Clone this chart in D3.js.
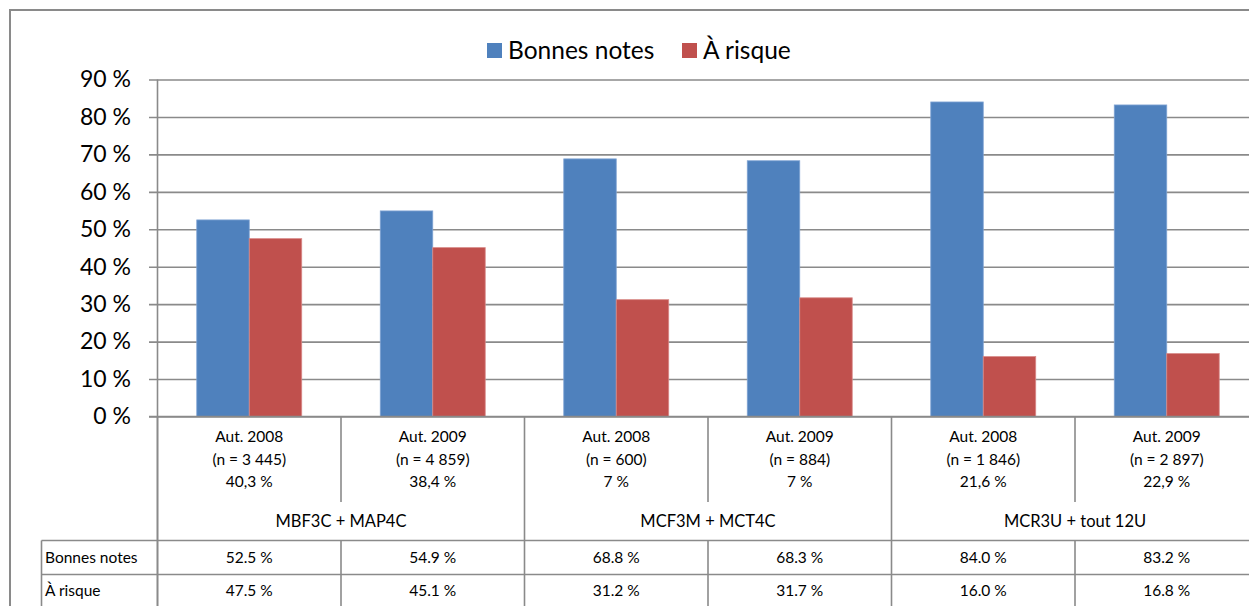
<!DOCTYPE html>
<html><head><meta charset="utf-8">
<script src="https://cdn.jsdelivr.net/npm/d3@7"></script>
<style>
html,body{margin:0;padding:0;background:#fff;}
svg{display:block;font-family:Lato,"Open Sans",sans-serif;}
</style></head>
<body>
<svg id="chart" width="1249" height="606"></svg>
<script>
const periods = ["Aut. 2008","Aut. 2009","Aut. 2008","Aut. 2009","Aut. 2008","Aut. 2009"];
const nLabels = ["(n = 3 445)","(n = 4 859)","(n = 600)","(n = 884)","(n = 1 846)","(n = 2 897)"];
const shares = ["40,3 %","38,4 %","7 %","7 %","21,6 %","22,9 %"];
const groups = ["MBF3C + MAP4C","MCF3M + MCT4C","MCR3U + tout 12U"];
const seriesNames = ["Bonnes notes","À risque"];
const bonnes = [52.5, 54.9, 68.8, 68.3, 84.0, 83.2];
const risque = [47.5, 45.1, 31.2, 31.7, 16.0, 16.8];
const yTicks = [0,10,20,30,40,50,60,70,80,90];
const colors = ["#4F81BD","#C0504D"];

(function(){
const svg = d3.select("#chart");
const gridColor = "#8a8a8a";
const plotLeft = 157.5, step = 183.5, plotRight = plotLeft + step*periods.length;
const plotTop = 79.5, base = 416.5;

const idx = d3.range(periods.length);
const x0 = d3.scaleBand().domain(idx).range([plotLeft, plotRight]).paddingInner(0.428).paddingOuter(0.214);
const x1 = d3.scaleBand().domain([0,1]).range([0, x0.bandwidth()]);
const y = d3.scaleLinear().domain([0,90]).range([base, plotTop]);

// outer border
svg.append("path").attr("d","M10,606 L10,10 L1249,10").attr("fill","none")
  .attr("stroke",gridColor).attr("stroke-width",2);

// y axis with gridlines
const yAxis = d3.axisLeft(y).tickValues(yTicks).tickSize(-(plotRight-149)).tickPadding(18)
  .tickFormat(d => d + " %");
const gy = svg.append("g").attr("transform","translate(149,0)").call(yAxis);
gy.select(".domain").remove();
gy.selectAll(".tick line").attr("stroke",gridColor).attr("stroke-width",1.6);
gy.selectAll(".tick text").attr("font-size",23).attr("fill","#000").attr("font-family","Lato");

// bars
const data = idx.map(i => [bonnes[i], risque[i]]);
const gcat = svg.append("g").selectAll("g").data(data).join("g")
  .attr("transform",(d,i)=>`translate(${x0(i)},0)`);
gcat.selectAll("rect").data(d=>d).join("rect")
  .attr("x",(d,j)=>x1(j)).attr("width",x1.bandwidth())
  .attr("y",d=>y(d)).attr("height",d=>base - y(d))
  .attr("fill",(d,j)=>colors[j])
  .attr("stroke",(d,j)=> j===0 ? "#7fa3d3" : "#d88a88").attr("stroke-width",0.8);

// vertical axis line
svg.append("line").attr("x1",plotLeft).attr("x2",plotLeft).attr("y1",plotTop).attr("y2",606)
  .attr("stroke",gridColor).attr("stroke-width",1.6);
// x axis baseline
svg.append("line").attr("x1",149).attr("x2",plotRight).attr("y1",base).attr("y2",base)
  .attr("stroke",gridColor).attr("stroke-width",1.6);

// category boundary lines
const bounds = d3.range(periods.length+1).map(i => plotLeft + i*step);
bounds.forEach((bx,i) => {
  if (i % 2 === 0) {
    svg.append("line").attr("x1",bx).attr("x2",bx).attr("y1",base).attr("y2",606)
      .attr("stroke",gridColor).attr("stroke-width",1.6);
  } else {
    svg.append("line").attr("x1",bx).attr("x2",bx).attr("y1",base).attr("y2",502)
      .attr("stroke",gridColor).attr("stroke-width",1.6);
    svg.append("line").attr("x1",bx).attr("x2",bx).attr("y1",540.5).attr("y2",606)
      .attr("stroke",gridColor).attr("stroke-width",1.6);
  }
});
// table horizontal lines
[540.5, 574.5].forEach(yy => {
  svg.append("line").attr("x1",41.5).attr("x2",plotRight).attr("y1",yy).attr("y2",yy)
    .attr("stroke",gridColor).attr("stroke-width",1.6);
});
svg.append("line").attr("x1",41.5).attr("x2",41.5).attr("y1",540.5).attr("y2",606)
  .attr("stroke",gridColor).attr("stroke-width",1.6);

// category labels
const cx = i => x0(i) + x0.bandwidth()/2;
const txt = (xx, yy, s, size, anchor) => svg.append("text").attr("x",xx).attr("y",yy)
  .attr("dy","0.35em").attr("text-anchor",anchor||"middle").attr("font-size",size||15.5)
  .attr("fill","#000").text(s);
idx.forEach(i => {
  txt(cx(i), 437, periods[i]);
  txt(cx(i), 460, nLabels[i]);
  txt(cx(i), 482, shares[i]);
  txt(cx(i), 558, bonnes[i].toFixed(1) + " %");
  txt(cx(i), 591, risque[i].toFixed(1) + " %");
});
groups.forEach((g,k) => {
  txt(plotLeft + (2*k+1)*step, 521, g, 16.5);
});
txt(45, 558, seriesNames[0], 15.5, "start");
txt(45, 591, seriesNames[1], 15.5, "start");

// legend
const legX = [487, 682];
seriesNames.forEach((s,j) => {
  svg.append("rect").attr("x",legX[j]).attr("y",43).attr("width",15).attr("height",15)
    .attr("fill",colors[j]);
  txt(legX[j]+21, 50, s, 24.5, "start");
});
})();
</script>
</body></html>
